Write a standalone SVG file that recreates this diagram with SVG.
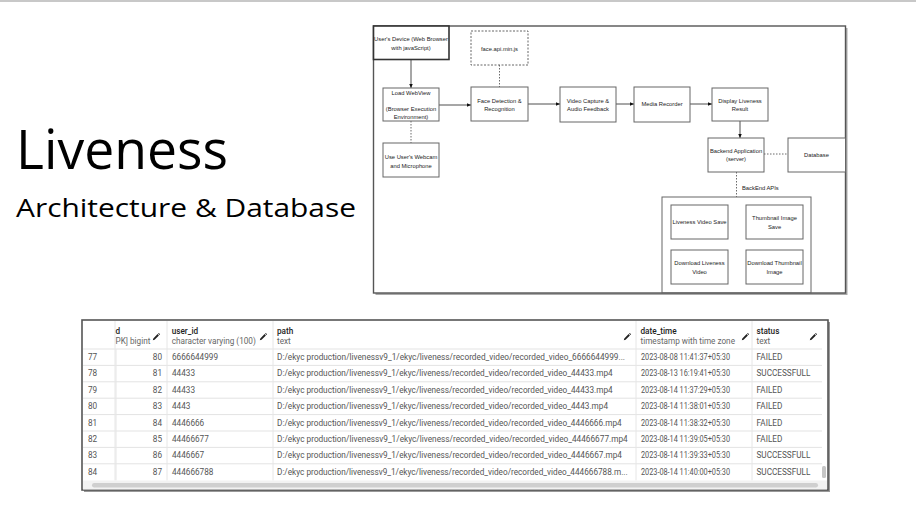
<svg xmlns="http://www.w3.org/2000/svg" width="916" height="516" viewBox="0 0 916 516">
<style>
.t{font-family:"Liberation Sans",Arial,sans-serif;font-size:5.8px;fill:#222;text-anchor:middle}
.tl{font-family:"Liberation Sans",Arial,sans-serif;font-size:5.8px;fill:#222}
.box{fill:#fff;stroke:#666;stroke-width:1}
.dbox{fill:#fff;stroke:#666;stroke-width:1;stroke-dasharray:2,1.5}
.ln{stroke:#222;stroke-width:0.8;fill:none}
.dl{stroke:#444;stroke-width:0.8;fill:none;stroke-dasharray:1.5,1.5}
.td{font-family:Roboto,"Liberation Sans",sans-serif;font-size:8.2px;fill:#555}
.th{font-family:Roboto,"Liberation Sans",sans-serif;font-size:8.2px;fill:#222;font-weight:500}
.ts{font-family:Roboto,"Liberation Sans",sans-serif;font-size:8.2px;fill:#666}
.rl{stroke:#e3e3e3;stroke-width:1}
.cl{stroke:#e6e6e6;stroke-width:1}
.pen{fill:#222}
.title{font-family:"Open Sans","Noto Sans",sans-serif;fill:#000}
</style>
<defs>
<marker id="ah" markerWidth="5" markerHeight="5" refX="4.5" refY="2.5" orient="auto" markerUnits="userSpaceOnUse">
<path d="M0,0.5 L4.5,2.5 L0,4.5 Z" fill="#111"/>
</marker>
<path id="pencil" d="M-3.2,3.2 L-2.7,1.4 L1.6,-2.9 L2.9,-1.6 L-1.4,2.7 Z M2.1,-3.4 L2.8,-4.1 L4.1,-2.8 L3.4,-2.1 Z"/>
</defs>
<rect width="916" height="516" fill="#fff"/>
<rect x="0" y="0" width="916" height="2" fill="#c8c8c8"/>

<g id="title">
<text class="title" x="16" y="169" font-size="54" textLength="212" lengthAdjust="spacingAndGlyphs">Liveness</text>
<text class="title" x="16" y="216.5" font-size="25.5" textLength="340" lengthAdjust="spacingAndGlyphs">Architecture &amp; Database</text>
</g>

<g id="arch-frame">
<rect x="375.5" y="28" width="472" height="267" fill="#aaa"/>
<rect x="373.5" y="26" width="472" height="267" fill="#fff" stroke="#555" stroke-width="1.4"/>
</g>

<g id="connectors">
<line class="ln" x1="411" y1="60" x2="411" y2="88" marker-end="url(#ah)"/>
<line class="ln" x1="439" y1="105" x2="471" y2="105" marker-end="url(#ah)"/>
<line class="dl" x1="411" y1="121" x2="411" y2="143"/>
<line class="dl" x1="499.5" y1="65" x2="499.5" y2="87"/>
<line class="ln" x1="528" y1="104" x2="560" y2="104" marker-end="url(#ah)"/>
<line class="ln" x1="616" y1="104" x2="634" y2="104" marker-end="url(#ah)"/>
<line class="ln" x1="690" y1="104" x2="712" y2="104" marker-end="url(#ah)"/>
<line class="ln" x1="740" y1="121" x2="740" y2="138" marker-end="url(#ah)"/>
<line class="dl" x1="764" y1="154" x2="788" y2="154"/>
<line class="dl" x1="736.5" y1="172" x2="736.5" y2="197"/>
</g>

<g id="users-device">
<rect x="373.5" y="26" width="75.5" height="33.5" fill="#fff" stroke="#333" stroke-width="1.6"/>
<text class="t" x="411" y="40.5">User's Device (Web Browser</text>
<text class="t" x="411" y="50">with javaScript)</text>
</g>
<g id="load-webview">
<rect class="box" x="383" y="88" width="56" height="33"/>
<text class="t" x="411" y="94.7">Load WebView</text>
<text class="t" x="411" y="111">(Browser Execution</text>
<text class="t" x="411" y="119">Environment)</text>
</g>
<g id="webcam">
<rect class="box" x="383" y="143" width="56" height="34"/>
<text class="t" x="411" y="158.5">Use User's Webcam</text>
<text class="t" x="411" y="167.5">and Microphone</text>
</g>
<g id="face-api">
<rect class="dbox" x="471" y="31" width="57" height="34"/>
<text class="t" x="499.5" y="51">face.api.min.js</text>
</g>
<g id="face-detection">
<rect class="box" x="471" y="87" width="57" height="34"/>
<text class="t" x="499.5" y="103">Face Detection &amp;</text>
<text class="t" x="499.5" y="111">Recognition</text>
</g>
<g id="video-capture">
<rect class="box" x="560" y="87" width="56" height="35"/>
<text class="t" x="588" y="102.7">Video Capture &amp;</text>
<text class="t" x="588" y="110.7">Audio Feedback</text>
</g>
<g id="media-recorder">
<rect class="box" x="634" y="87" width="56" height="35"/>
<text class="t" x="662" y="106">Media Recorder</text>
</g>
<g id="display-result">
<rect class="box" x="712" y="88" width="56" height="33"/>
<text class="t" x="740" y="102.7">Display Liveness</text>
<text class="t" x="740" y="111">Result</text>
</g>
<g id="backend">
<rect class="box" x="708" y="138" width="56" height="34"/>
<text class="t" x="736" y="152.7">Backend Application</text>
<text class="t" x="736" y="161">(server)</text>
</g>
<g id="database">
<rect class="box" x="788" y="138" width="57.5" height="34"/>
<text class="t" x="816.5" y="156.7">Database</text>
</g>
<g id="backend-apis">
<text class="tl" x="742" y="190">BackEnd APIs</text>
<rect x="662" y="197" width="149" height="96" fill="none" stroke="#666" stroke-width="1"/>
</g>
<g id="liveness-video-save">
<rect class="box" x="671" y="205" width="57" height="34"/>
<text class="t" x="699.5" y="223.7">Liveness Video Save</text>
</g>
<g id="thumbnail-save">
<rect class="box" x="746" y="205" width="57" height="34"/>
<text class="t" x="774.5" y="220">Thumbnail Image</text>
<text class="t" x="774.5" y="228.7">Save</text>
</g>
<g id="download-video">
<rect class="box" x="671" y="250" width="57" height="34"/>
<text class="t" x="699.5" y="265">Download Liveness</text>
<text class="t" x="699.5" y="273.7">Video</text>
</g>
<g id="download-thumbnail">
<rect class="box" x="746" y="250" width="57" height="34"/>
<text class="t" x="774.5" y="265">Download Thumbnail</text>
<text class="t" x="774.5" y="273.7">Image</text>
</g>

<g id="table">
<rect x="84" y="322" width="746" height="170" fill="#999"/>
<rect x="82" y="320" width="746" height="170" fill="#fff" stroke="#555" stroke-width="1.6"/>
<g id="grid">
<line class="rl" x1="83" y1="349" x2="822" y2="349" stroke="#d6d6d6"/>
<line class="rl" x1="83" y1="365.4" x2="822" y2="365.4"/>
<line class="rl" x1="83" y1="381.8" x2="822" y2="381.8"/>
<line class="rl" x1="83" y1="398.2" x2="822" y2="398.2"/>
<line class="rl" x1="83" y1="414.6" x2="822" y2="414.6"/>
<line class="rl" x1="83" y1="431" x2="822" y2="431"/>
<line class="rl" x1="83" y1="447.4" x2="822" y2="447.4"/>
<line class="rl" x1="83" y1="463.8" x2="822" y2="463.8"/>
<line class="cl" x1="115" y1="321" x2="115" y2="480.5" stroke="#d8d8d8"/>
<line class="cl" x1="116" y1="349" x2="116" y2="480.5" stroke="#f0f0f0"/>
<line class="cl" x1="167" y1="321" x2="167" y2="480.5"/>
<line class="cl" x1="273" y1="321" x2="273" y2="480.5"/>
<line class="cl" x1="636" y1="321" x2="636" y2="480.5"/>
<line class="cl" x1="752" y1="321" x2="752" y2="480.5"/>
<rect x="83" y="480.5" width="744" height="9" fill="#f2f2f2"/>
<rect x="92" y="483" width="726" height="4.5" rx="2.2" fill="#cfcfcf"/>
<rect x="822" y="466" width="4" height="12" rx="1.5" fill="#c6c6c6"/>
</g>
<g id="header">
<text class="th" x="115.5" y="333.5">d</text>
<text class="ts" x="115.5" y="344">PK] bigint</text>
<use href="#pencil" class="pen" x="156" y="337"/>
<text class="th" x="171.7" y="333.5">user_id</text>
<text class="ts" x="171.7" y="344">character varying (100)</text>
<use href="#pencil" class="pen" x="263" y="337"/>
<text class="th" x="277" y="333.5">path</text>
<text class="ts" x="277" y="344">text</text>
<use href="#pencil" class="pen" x="627" y="337"/>
<text class="th" x="640.5" y="333.5">date_time</text>
<text class="ts" x="640.5" y="344">timestamp with time zone</text>
<use href="#pencil" class="pen" x="745" y="337"/>
<text class="th" x="756.5" y="333.5">status</text>
<text class="ts" x="756.5" y="344">text</text>
<use href="#pencil" class="pen" x="813" y="337"/>
</g>
<g id="rows">
<text class="td" x="88" y="360">77</text><text class="td" x="162" y="360" text-anchor="end">80</text><text class="td" x="172" y="360">6666644999</text>
<text class="td" x="277" y="360" textLength="348" lengthAdjust="spacingAndGlyphs">D:/ekyc production/livenessv9_1/ekyc/liveness/recorded_video/recorded_video_6666644999...</text>
<text class="td" x="641" y="360" textLength="89" lengthAdjust="spacingAndGlyphs">2023-08-08 11:41:37+05:30</text><text class="td" x="756.5" y="360">FAILED</text>

<text class="td" x="88" y="376.4">78</text><text class="td" x="162" y="376.4" text-anchor="end">81</text><text class="td" x="172" y="376.4">44433</text>
<text class="td" x="277" y="376.4" textLength="335.7" lengthAdjust="spacingAndGlyphs">D:/ekyc production/livenessv9_1/ekyc/liveness/recorded_video/recorded_video_44433.mp4</text>
<text class="td" x="641" y="376.4" textLength="89" lengthAdjust="spacingAndGlyphs">2023-08-13 16:19:41+05:30</text><text class="td" x="756.5" y="376.4">SUCCESSFULL</text>

<text class="td" x="88" y="392.8">79</text><text class="td" x="162" y="392.8" text-anchor="end">82</text><text class="td" x="172" y="392.8">44433</text>
<text class="td" x="277" y="392.8" textLength="335.7" lengthAdjust="spacingAndGlyphs">D:/ekyc production/livenessv9_1/ekyc/liveness/recorded_video/recorded_video_44433.mp4</text>
<text class="td" x="641" y="392.8" textLength="89" lengthAdjust="spacingAndGlyphs">2023-08-14 11:37:29+05:30</text><text class="td" x="756.5" y="392.8">FAILED</text>

<text class="td" x="88" y="409.2">80</text><text class="td" x="162" y="409.2" text-anchor="end">83</text><text class="td" x="172" y="409.2">4443</text>
<text class="td" x="277" y="409.2" textLength="331" lengthAdjust="spacingAndGlyphs">D:/ekyc production/livenessv9_1/ekyc/liveness/recorded_video/recorded_video_4443.mp4</text>
<text class="td" x="641" y="409.2" textLength="89" lengthAdjust="spacingAndGlyphs">2023-08-14 11:38:01+05:30</text><text class="td" x="756.5" y="409.2">FAILED</text>

<text class="td" x="88" y="425.6">81</text><text class="td" x="162" y="425.6" text-anchor="end">84</text><text class="td" x="172" y="425.6">4446666</text>
<text class="td" x="277" y="425.6" textLength="344.7" lengthAdjust="spacingAndGlyphs">D:/ekyc production/livenessv9_1/ekyc/liveness/recorded_video/recorded_video_4446666.mp4</text>
<text class="td" x="641" y="425.6" textLength="89" lengthAdjust="spacingAndGlyphs">2023-08-14 11:38:32+05:30</text><text class="td" x="756.5" y="425.6">FAILED</text>

<text class="td" x="88" y="442">82</text><text class="td" x="162" y="442" text-anchor="end">85</text><text class="td" x="172" y="442">44466677</text>
<text class="td" x="277" y="442" textLength="350.7" lengthAdjust="spacingAndGlyphs">D:/ekyc production/livenessv9_1/ekyc/liveness/recorded_video/recorded_video_44466677.mp4</text>
<text class="td" x="641" y="442" textLength="89" lengthAdjust="spacingAndGlyphs">2023-08-14 11:39:05+05:30</text><text class="td" x="756.5" y="442">FAILED</text>

<text class="td" x="88" y="458.4">83</text><text class="td" x="162" y="458.4" text-anchor="end">86</text><text class="td" x="172" y="458.4">4446667</text>
<text class="td" x="277" y="458.4" textLength="345" lengthAdjust="spacingAndGlyphs">D:/ekyc production/livenessv9_1/ekyc/liveness/recorded_video/recorded_video_4446667.mp4</text>
<text class="td" x="641" y="458.4" textLength="89" lengthAdjust="spacingAndGlyphs">2023-08-14 11:39:33+05:30</text><text class="td" x="756.5" y="458.4">SUCCESSFULL</text>

<text class="td" x="88" y="474.8">84</text><text class="td" x="162" y="474.8" text-anchor="end">87</text><text class="td" x="172" y="474.8">444666788</text>
<text class="td" x="277" y="474.8" textLength="350.7" lengthAdjust="spacingAndGlyphs">D:/ekyc production/livenessv9_1/ekyc/liveness/recorded_video/recorded_video_444666788.m...</text>
<text class="td" x="641" y="474.8" textLength="89" lengthAdjust="spacingAndGlyphs">2023-08-14 11:40:00+05:30</text><text class="td" x="756.5" y="474.8">SUCCESSFULL</text>
</g>
</g>
</svg>
